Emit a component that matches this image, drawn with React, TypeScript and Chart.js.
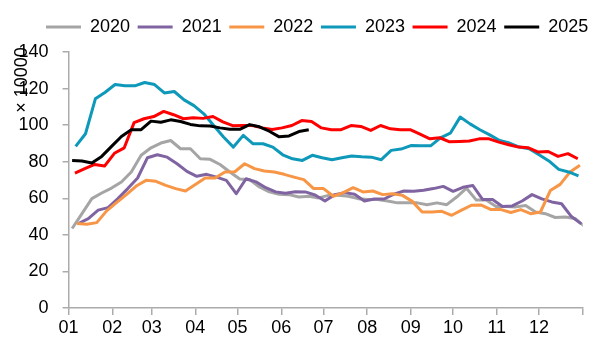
import React, { useEffect, useRef } from 'react';
import { Chart, registerables } from 'chart.js';

Chart.register(...registerables);

// ---- data ----
const monthLabels = ['01', '02', '03', '04', '05', '06', '07', '08', '09', '10', '11', '12'];
const monthStartDays = [0, 31, 59, 90, 120, 151, 181, 212, 243, 273, 304, 334, 365];
const yearNames = ['2020', '2021', '2022', '2023', '2024', '2025'];
// day of year of each series' first weekly observation
const firstDay = [2.5, 7, 6, 5, 4.5, 2.5];
const yTicks = [0, 20, 40, 60, 80, 100, 120, 140];
const unitLabel = '× 10000';

const v2020 = [43.5, 51.6, 59.8, 62.9, 65.6, 68.9, 74.4, 83.5, 87.6, 90.2, 91.6, 87.1, 87.1, 81.6, 81.3, 78.5, 74.4, 70.5, 70.2, 66.2, 63.5, 62.2, 62, 60.7, 61.1, 60.2, 61.6, 61.6, 61.1, 59.8, 59.3, 59.3, 58.5, 57.5, 57.5, 57.5, 56.5, 57.5, 56.5, 60.7, 65.5, 59, 59, 55.5, 55.5, 55.3, 56, 52.5, 51.6, 49.5, 49.8, 49, 44.5];
const v2021 = [46.2, 48.9, 53.5, 54.9, 59.8, 65.3, 71.1, 82.2, 83.8, 82.5, 78.9, 74.7, 72, 73.1, 71.6, 69.8, 62.5, 70.7, 69, 65.8, 63.5, 62.8, 63.6, 63.5, 61.8, 58.5, 62, 63.1, 62.2, 58.5, 59.6, 59.6, 62.3, 64, 63.8, 64.4, 65.3, 66.5, 63.8, 66, 67, 59.3, 59.3, 55.5, 55.8, 58.5, 62, 59.7, 58, 57, 50, 46];
const v2022 = [46.2, 45.8, 46.7, 53.1, 57.6, 62, 66.7, 69.8, 69.3, 67.1, 65.3, 64, 67.5, 71.1, 71.1, 74.4, 74.5, 78.9, 76.2, 74.9, 74.4, 73.1, 71.6, 70.2, 65.3, 65.3, 61.1, 63.1, 65.8, 63.5, 64, 62, 62.5, 61.6, 58.3, 52.5, 52.5, 52.9, 50.7, 53.5, 56.2, 56.3, 53.8, 53.8, 52.2, 53.8, 51.6, 52.5, 64.2, 67.6, 74.4, 78];
const v2023 = [88.4, 95.3, 114.4, 118, 122.2, 121.6, 121.5, 123.3, 122.2, 117.6, 118.4, 113.8, 110.7, 106.2, 99.8, 93.5, 88, 94.4, 89.8, 89.8, 88, 83.8, 81.6, 80.7, 83.5, 82.2, 81.1, 82.2, 83.1, 82.7, 82.5, 81.1, 86.2, 86.9, 88.8, 88.7, 88.7, 93, 95.6, 104.4, 100.7, 97.5, 94.7, 91.6, 90.2, 88, 87.1, 83.8, 80.4, 75.8, 74.4, 72.2];
const v2024 = [73.8, 76.2, 78.5, 77.6, 84.6, 87.6, 101.4, 103.5, 104.7, 107.5, 105.7, 103.5, 104, 103.7, 104.7, 101.8, 99.7, 99.8, 99.8, 98.5, 97.6, 98.5, 99.8, 102.5, 102, 98.5, 97.5, 97.5, 99.8, 99.3, 97.1, 99.8, 98, 97.5, 97.5, 95.1, 92.5, 93.1, 90.9, 91.1, 91.3, 92.5, 92.5, 90.7, 89.3, 88, 87.6, 85.3, 85.6, 82.9, 84.4, 81.6];
const v2025 = [80.7, 80.4, 79.3, 82.9, 88.4, 93.8, 97.5, 97.5, 102.2, 101.6, 102.9, 102, 100.4, 99.6, 99.5, 98.5, 97.8, 97.7, 100.3, 99.1, 96.7, 93.6, 94.1, 96.5, 97.5];

const seriesValues = [v2020, v2021, v2022, v2023, v2024, v2025];
const seriesColors = ['#A5A5A5', '#8064A2', '#F79646', '#0E98BA', '#FF0000', '#000000'];
const axisColor = '#ABABAB';
const FONT = '"Liberation Sans", Arial, sans-serif';

const legendFit = {
  id: 'legendFit',
  beforeInit(chart: any) {
    const lg = chart.legend;
    if (!lg) return;
    const orig = lg.fit;
    lg.fit = function () {
      orig.call(lg);
      lg.height = 41.6;
    };
  },
};

const legendShift = {
  id: 'legendShift',
  afterLayout(chart: any) {
    const lg = chart.legend;
    if (!lg || !lg.lineWidths) return;
    const pad = lg.options.labels.padding;
    const start = (lg.left + pad + lg.right - lg.lineWidths[0]) / 2;
    const dx = 46 - start;
    lg.left += dx;
    lg.right += dx;
  },
};

const yTitle = {
  id: 'yTitle',
  afterDraw(chart: any) {
    const ctx = chart.ctx;
    ctx.save();
    ctx.font = '18px ' + FONT;
    ctx.fillStyle = '#000';
    ctx.translate(22, 80);
    ctx.rotate(-Math.PI / 2);
    ctx.textAlign = 'center';
    ctx.textBaseline = 'middle';
    ctx.fillText(unitLabel, 0, 0);
    ctx.restore();
  },
};

export default function App() {
  const ref = useRef<HTMLCanvasElement | null>(null);

  useEffect(() => {
    if (!ref.current) return;
    Chart.defaults.font.family = FONT;
    Chart.defaults.font.size = 18;
    Chart.defaults.color = '#000';

    const datasets = seriesValues.map((vals, k) => ({
      label: yearNames[k],
      data: vals.map((v, i) => ({ x: firstDay[k] + 7 * i, y: v })),
      borderColor: seriesColors[k],
      backgroundColor: seriesColors[k],
      borderWidth: 3,
      pointRadius: 0,
      pointHoverRadius: 0,
      tension: 0,
      fill: false,
      borderJoinStyle: 'round' as const,
      order: seriesValues.length - k,
    }));

    const chart = new Chart(ref.current, {
      type: 'line',
      data: { datasets },
      options: {
        responsive: false,
        animation: false,
        devicePixelRatio: 1,
        layout: { padding: { top: 10.4, right: 29.3, left: 0, bottom: 0 } },
        plugins: {
          legend: {
            display: true,
            position: 'top',
            labels: {
              usePointStyle: true,
              pointStyle: 'line',
              pointStyleWidth: 35,
              padding: 7.6,
              color: '#000',
              font: { size: 18, family: FONT },
              sort: (a: any, b: any) => a.datasetIndex - b.datasetIndex,
            },
          },
          tooltip: { enabled: false },
        },
        scales: {
          x: {
            type: 'linear',
            min: monthStartDays[0],
            max: monthStartDays[monthStartDays.length - 1],
            afterBuildTicks: (s: any) => {
              s.ticks = monthStartDays.map((v) => ({ value: v }));
            },
            afterFit: (s: any) => {
              s.height = 45;
            },
            ticks: {
              autoSkip: false,
              maxRotation: 0,
              minRotation: 0,
              padding: 2,
              color: '#000',
              font: { size: 18, family: FONT },
              callback: (_v: any, i: number) => (i < monthLabels.length ? monthLabels[i] : ''),
            },
            grid: { drawOnChartArea: false, drawTicks: true, tickLength: 7, color: axisColor, lineWidth: 1.5 },
            border: { display: true, color: axisColor, width: 1.5 },
          },
          y: {
            type: 'linear',
            min: yTicks[0],
            max: yTicks[yTicks.length - 1],
            afterBuildTicks: (s: any) => {
              s.ticks = yTicks.map((v) => ({ value: v }));
            },
            afterFit: (s: any) => {
              s.width = 68.6;
            },
            ticks: { padding: 14, color: '#000', font: { size: 18, family: FONT } },
            grid: { drawOnChartArea: false, drawTicks: true, tickLength: 6, color: axisColor, lineWidth: 1.5 },
            border: { display: true, color: axisColor, width: 1.5 },
          },
        },
      },
      plugins: [legendFit, legendShift, yTitle],
    } as any);

    return () => chart.destroy();
  }, []);

  return (
    <div style={{ position: 'absolute', left: 0, top: 0, width: 612, height: 353, background: '#fff' }}>
      <canvas ref={ref} width={612} height={353} style={{ width: 612, height: 353, display: 'block' }} />
    </div>
  );
}
